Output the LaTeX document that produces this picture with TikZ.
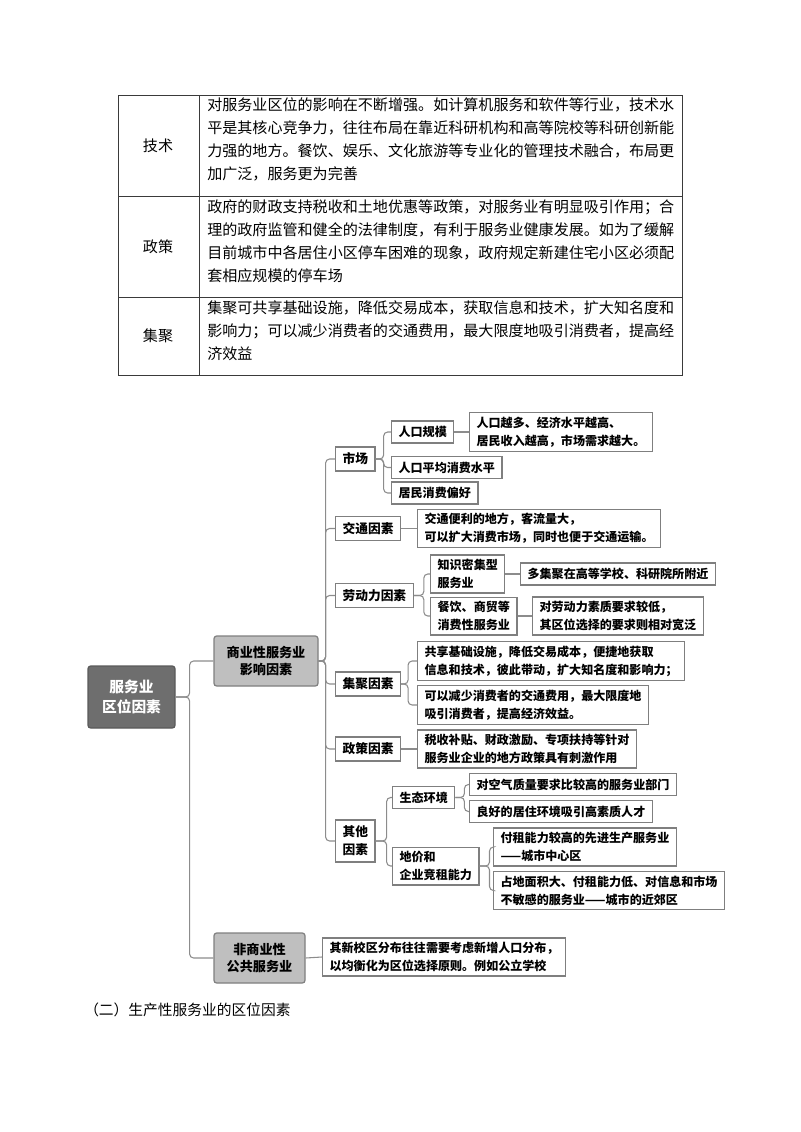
\documentclass[tikz,border=0pt]{standalone}
\usepackage{fontspec}
\setmainfont{Noto Sans CJK SC}
\usepackage{tikz}
\newlength\unitpx
\setlength\unitpx{0.02625cm}
\definecolor{LineGray}{HTML}{8C8C8C}
\definecolor{EdgeGray}{HTML}{7F7F7F}
\definecolor{RootGray}{HTML}{6E6E6E}
\definecolor{RootEdge}{HTML}{5A5A5A}
\definecolor{CatGray}{HTML}{BFBFBF}
\definecolor{TabLine}{HTML}{3A3A3A}
\tikzset{
  % table
  tabline/.style={draw=TabLine,line width=0.7pt},
  cell/.style={font=\fontsize{11.25pt}{17.1pt}\selectfont,inner sep=0pt,
               anchor=north west,align=left},
  rowlab/.style={font=\fontsize{11.25pt}{14pt}\selectfont,inner sep=0pt},
  % mind map boxes
  rootbox/.style={rectangle,rounded corners=2pt,fill=RootGray,draw=RootEdge,
                  line width=0.9pt,text=white,align=center,
                  font=\fontsize{11pt}{14.5pt}\selectfont\bfseries,
                  minimum width=87\unitpx,minimum height=62\unitpx},
  catbox/.style={rectangle,rounded corners=2pt,fill=CatGray,draw=EdgeGray,
                 line width=0.9pt,align=center,
                 font=\fontsize{9.8pt}{13.2pt}\selectfont\bfseries,
                 minimum height=50\unitpx},
  keybox/.style={rectangle,draw=EdgeGray,fill=white,line width=0.9pt,
                 anchor=west,align=center,
                 font=\fontsize{9.5pt}{13.5pt}\selectfont\bfseries,
                 inner xsep=7\unitpx,inner ysep=3\unitpx,minimum height=24\unitpx},
  leafbox/.style={rectangle,draw=EdgeGray,fill=white,line width=0.9pt,
                  anchor=west,align=left,
                  font=\fontsize{9pt}{13.6pt}\selectfont\bfseries,
                  inner xsep=7\unitpx,inner ysep=4\unitpx,minimum height=22\unitpx},
  % connector
  link/.style={draw=LineGray,line width=0.8pt,rounded corners=4\unitpx}
}
\begin{document}
\begin{tikzpicture}[x=0.02625cm,y=-0.02625cm]
  \useasboundingbox (0,0) rectangle (800,1132);

  % table
  \draw[tabline] (118,95) rectangle (682,375);
  \draw[tabline] (199,95) -- (199,375);
  \draw[tabline] (118,196) -- (682,196);
  \draw[tabline] (118,297) -- (682,297);
  \node[rowlab] (techlab) at (158,145.5) {技术};
  \node[rowlab] (pollab)  at (158,246.5) {政策};
  \node[rowlab] (agglab)  at (158,336)   {集聚};
  \node[cell] (techtxt) at (207,97.5)
    {对服务业区位的影响在不断增强。如计算机服务和软件等行业，技术水\\
     平是其核心竞争力，往往布局在靠近科研机构和高等院校等科研创新能\\
     力强的地方。餐饮、娱乐、文化旅游等专业化的管理技术融合，布局更\\
     加广泛，服务更为完善};
  \node[cell] (poltxt) at (207,199.5)
    {政府的财政支持税收和土地优惠等政策，对服务业有明显吸引作用；合\\
     理的政府监管和健全的法律制度，有利于服务业健康发展。如为了缓解\\
     目前城市中各居住小区停车困难的现象，政府规定新建住宅小区必须配\\
     套相应规模的停车场};
  \node[cell] (aggtxt) at (207,300.5)
    {集聚可共享基础设施，降低交易成本，获取信息和技术，扩大知名度和\\
     影响力；可以减少消费者的交通费用，最大限度地吸引消费者，提高经\\
     济效益};

  % mind map
  \node[rootbox] (root) at (131.5,697) {服务业\\区位因素};
  \node[catbox,minimum width=104\unitpx] (com)    at (266,661)   {商业性服务业\\影响因素};
  \node[catbox,minimum width=91\unitpx]  (noncom) at (259.5,958) {非商业性\\公共服务业};

  \node[keybox] (market)  at (335,459)   {市场};
  \node[keybox] (traffic) at (335,528.5) {交通因素};
  \node[keybox] (labor)   at (335,595.5) {劳动力因素};
  \node[keybox] (cluster) at (335,684)   {集聚因素};
  \node[keybox] (policy)  at (335,749)   {政策因素};
  \node[keybox,minimum height=42\unitpx] (other) at (335,841) {其他\\因素};

  \node[leafbox] (popsize) at (391,432)   {人口规模};
  \node[leafbox] (consume) at (391,467.5) {人口平均消费水平};
  \node[leafbox] (prefer)  at (391,493)   {居民消费偏好};
  \node[leafbox] (popdet)  at (469,432)   {人口越多、经济水平越高、\\居民收入越高，市场需求越大。};
  \node[leafbox] (trafdet) at (417,528.5) {交通便利的地方，客流量大，\\可以扩大消费市场，同时也便于交通运输。};
  \node[leafbox] (know)     at (430,574) {知识密集型\\服务业};
  \node[leafbox] (knowdet)  at (520,574) {多集聚在高等学校、科研院所附近};
  \node[leafbox] (cater)    at (430,616) {餐饮、商贸等\\消费性服务业};
  \node[leafbox] (caterdet) at (532,616) {对劳动力素质要求较低，\\其区位选择的要求则相对宽泛};
  \node[leafbox] (clus1)  at (417,661) {共享基础设施，降低交易成本，便捷地获取\\信息和技术，彼此带动，扩大知名度和影响力；};
  \node[leafbox] (clus2)  at (417,705) {可以减少消费者的交通费用，最大限度地\\吸引消费者，提高经济效益。};
  \node[leafbox] (poldet) at (417,749) {税收补贴、财政激励、专项扶持等针对\\服务业企业的地方政策具有刺激作用};
  \node[leafbox] (eco)    at (392,797.5) {生态环境};
  \node[leafbox] (air)    at (469,784.5) {对空气质量要求比较高的服务业部门};
  \node[leafbox] (living) at (469,811.5) {良好的居住环境吸引高素质人才};
  \node[leafbox] (land)   at (392,866)   {地价和\\企业竞租能力};
  \node[leafbox] (rent1)  at (493,847)   {付租能力较高的先进生产服务业\\——城市中心区};
  \node[leafbox] (rent2)  at (493,890.5) {占地面积大、付租能力低、对信息和市场\\不敏感的服务业——城市的近郊区};
  \node[leafbox] (pubdet) at (322,957)   {其新校区分布往往需要考虑新增人口分布，\\以均衡化为区位选择原则。例如公立学校};

  \node[anchor=west,inner sep=0pt,font=\fontsize{11pt}{13pt}\selectfont] (nextsec) at (84,1010)
    {（二）生产性服务业的区位因素};

  % connectors
  \foreach \k in {com,noncom}
    \draw[link] (root.east) -- ++(14,0) |- (\k.west);
  \foreach \k in {market,traffic,labor,cluster,policy,other}
    \draw[link] (com.east) -- ++(7,0) |- (\k.west);
  \foreach \k in {popsize,consume,prefer}
    \draw[link] (market.east) -- ++(8,0) |- (\k.west);
  \foreach \k in {know,cater}
    \draw[link] (labor.east) -- ++(10,0) |- (\k.west);
  \foreach \k in {clus1,clus2}
    \draw[link] (cluster.east) -- ++(7,0) |- (\k.west);
  \foreach \k in {eco,land}
    \draw[link] (other.east) -- ++(11,0) |- (\k.west);
  \foreach \k in {air,living}
    \draw[link] (eco.east) -- ++(9,0) |- (\k.west);
  \foreach \k in {rent1,rent2}
    \draw[link] (land.east) -- ++(10,0) |- (\k.west);
  \draw[link] (popsize.east) -- (popdet.west);
  \draw[link] (traffic.east) -- (trafdet.west);
  \draw[link] (know.east) -- (knowdet.west);
  \draw[link] (cater.east) -- (caterdet.west);
  \draw[link] (policy.east) -- (poldet.west);
  \draw[link] (noncom.east) -- (pubdet.west);
\end{tikzpicture}
\end{document}
